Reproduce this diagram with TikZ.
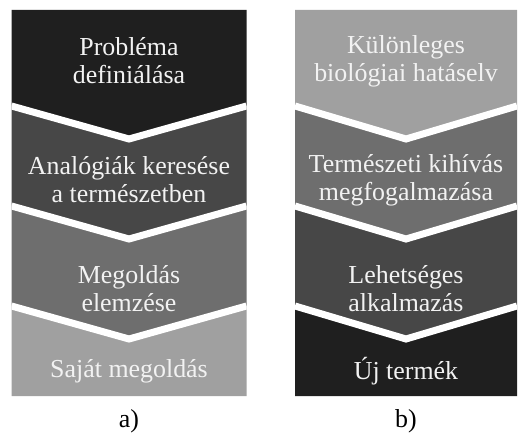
\documentclass[tikz,border=0pt]{standalone}
\usepackage{fontspec}
\setmainfont{Liberation Serif}
\definecolor{shA}{HTML}{1F1F1F}
\definecolor{shB}{HTML}{474747}
\definecolor{shC}{HTML}{6E6E6E}
\definecolor{shD}{HTML}{A0A0A0}
\definecolor{txt}{HTML}{F2F2F2}
\newcommand\chevcol[7]{%
  % #1 left, #2 right, #3 mid, #4..#7 colours
  \fill[#4] (#1,10) -- (#2,10) -- (#2,106) -- (#3,139) -- (#1,106) -- cycle;
  \fill[#5] (#1,106) -- (#3,139) -- (#2,106) -- (#2,206) -- (#3,239) -- (#1,206) -- cycle;
  \fill[#6] (#1,206) -- (#3,239) -- (#2,206) -- (#2,306) -- (#3,339) -- (#1,306) -- cycle;
  \fill[#7] (#1,306) -- (#3,339) -- (#2,306) -- (#2,396) -- (#1,396) -- cycle;
  \begin{scope}
    \clip (#1,10) rectangle (#2,396);
    \draw[sepline] (#1,106) -- (#3,139) -- (#2,106);
    \draw[sepline] (#1,206) -- (#3,239) -- (#2,206);
    \draw[sepline] (#1,306) -- (#3,339) -- (#2,306);
  \end{scope}
}
\begin{document}
\begin{tikzpicture}[x=1bp,y=-1bp,
  lbl/.style={text=txt, font=\fontsize{26}{28}\selectfont, align=center, inner sep=0pt},
  caplbl/.style={text=black, font=\fontsize{26}{28}\selectfont, inner sep=0pt},
  sepline/.style={draw=white, line width=7bp, line join=miter}]
\useasboundingbox (0,0) rectangle (519,436);
\chevcol{11.5}{246.5}{129}{shA}{shB}{shC}{shD}
\chevcol{295}{517}{406}{shD}{shC}{shB}{shA}
% left texts
\node[lbl] (l1) at (129,61) {Probléma\\definiálása};
\node[lbl] (l2) at (129,180) {Analógiák keresése\\a természetben};
\node[lbl] (l3) at (129,289) {Megoldás\\elemzése};
\node[lbl] (l4) at (129,371) {Saját megoldás};
\node[caplbl] (la) at (129,421) {a)};
% right texts
\node[lbl] (r1) at (406,61) {Különleges\\biológiai hatáselv};
\node[lbl] (r2) at (406,180) {Természeti kihívás\\megfogalmazása};
\node[lbl] (r3) at (406,289) {Lehetséges\\alkalmazás};
\node[lbl] (r4) at (406,371) {Új termék};
\node[caplbl] (rb) at (406,421) {b)};
\end{tikzpicture}
\end{document}
